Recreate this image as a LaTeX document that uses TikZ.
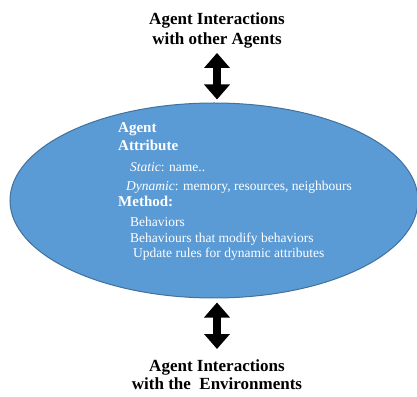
\documentclass[tikz,border=0pt]{standalone}
\usepackage{fontspec}
\setmainfont{Liberation Serif}
\usetikzlibrary{arrows.meta,shapes.geometric}
\definecolor{ellfill}{RGB}{91,155,213}
\definecolor{elldraw}{RGB}{65,113,156}
\begin{document}
\begin{tikzpicture}[x=1pt,y=1pt,
 title/.style={anchor=base, inner sep=0, font=\fontsize{17}{20}\selectfont\bfseries},
 head/.style={anchor=base west, inner sep=0, text=white, font=\fontsize{15}{18}\selectfont\bfseries},
 item/.style={anchor=base west, inner sep=0, text=white, font=\fontsize{13.5}{16}\selectfont},
 biarrow/.style={line width=7.5pt, {Triangle[length=15pt,width=25pt]}-{Triangle[length=15pt,width=25pt]}}]
\useasboundingbox (0,0) rectangle (417,396);
\node[draw=elldraw, fill=ellfill, line width=1pt, ellipse, minimum width=408pt, minimum height=195pt, inner sep=0] (ell) at (214,195.5) {};
\node[title] (top1) at (217,371) {Agent Interactions};
\node[title] (top2) at (217,351) {with other Agents};
\node[title] (bot1) at (217,25) {Agent Interactions};
\node[title] (bot2) at (217,7) {with the\ \ Environments};
\node[head] (agent) at (118,263) {Agent};
\node[head] (attr) at (118,245) {Attribute};
\node[item] (stat) at (130,224) {\textit{Static}: name..};
\node[item] (dyn) at (126,205) {\textit{Dynamic}: memory, resources, neighbours};
\node[head] (meth) at (118,189) {Method:};
\node[item] (beh1) at (130,169) {Behaviors};
\node[item] (beh2) at (130,153) {Behaviours that modify behaviors};
\node[item] (upd) at (133,138) {Update rules for dynamic attributes};
\draw[biarrow] ([yshift=-4pt]top2.south) -- ([yshift=3pt]top2.south |- ell.north);
\draw[biarrow] ([yshift=-4pt]bot1.north |- ell.south) -- ([yshift=10pt]bot1.north);
\end{tikzpicture}
\end{document}
